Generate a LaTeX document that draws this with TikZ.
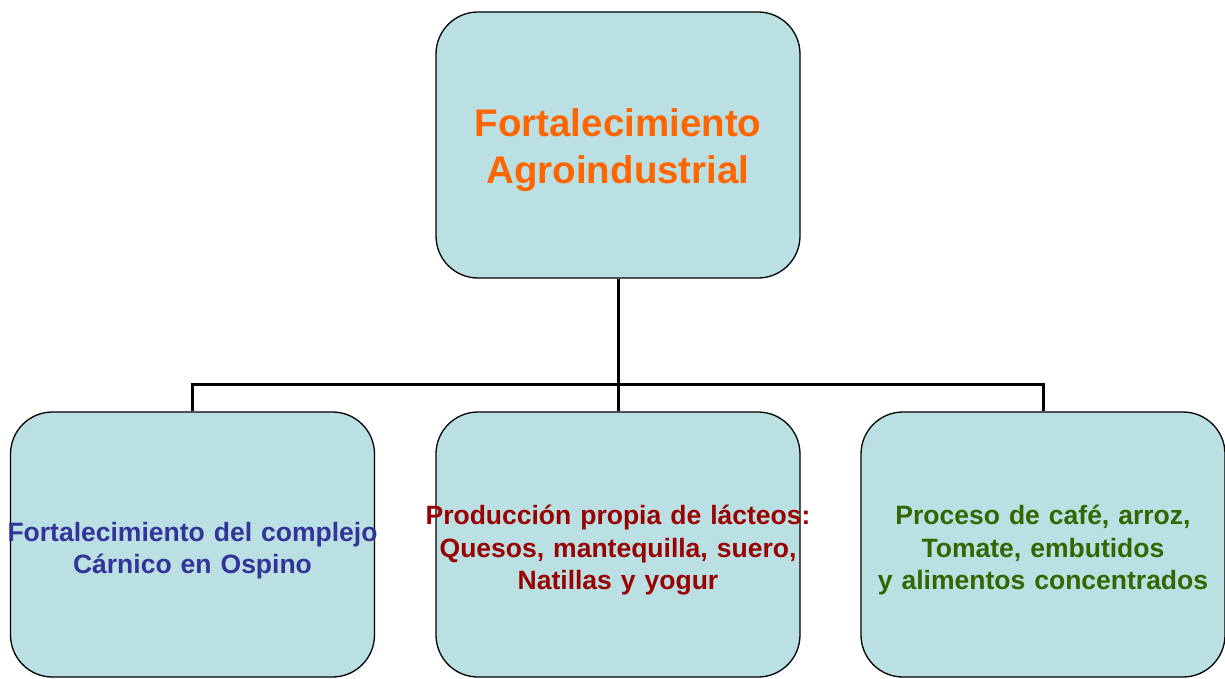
\documentclass[tikz,border=0pt]{standalone}
\usepackage{fontspec}
\setmainfont{Liberation Sans}
\usetikzlibrary{positioning}
\definecolor{cajaazul}{RGB}{186,224,227}
\definecolor{naranja}{RGB}{255,102,0}
\definecolor{azultexto}{RGB}{51,51,153}
\definecolor{rojotexto}{RGB}{153,0,0}
\definecolor{verdetexto}{RGB}{51,102,0}

\begin{document}
\begin{tikzpicture}[x=1pt,y=-1pt,font=\bfseries,
  caja/.style={draw=black, line width=1.3pt, fill=cajaazul, rounded corners=42pt,
    minimum width=364pt, minimum height=265pt, inner sep=0pt},
  texto/.style={align=center, inner sep=0pt,
    font=\fontsize{26.5}{32.5}\selectfont\bfseries,
    execute at begin node={\spaceskip=9pt\relax}},
  conn/.style={line width=3pt}]
  \useasboundingbox (0,0) rectangle (1225,679);

  % Kotak utama
  \node[caja, minimum height=266pt] (agro) at (618,145) {};
  \node[align=center, inner sep=0pt, text=naranja,
    font=\fontsize{38.5}{47}\selectfont\bfseries] (agro-txt) at ([yshift=-5pt]agro.center) {Fortalecimiento\\Agroindustrial};

  % Kotak-kotak bawah
  \foreach \nm/\xx/\clr/\txt in {
      carnico/192.5/azultexto/{Fortalecimiento del complejo\\Cárnico en Ospino},
      lacteos/618/rojotexto/{Producción propia de lácteos:\\Quesos, mantequilla, suero,\\Natillas y yogur},
      proceso/1043/verdetexto/{Proceso de café, arroz,\\Tomate, embutidos\\y alimentos concentrados}} {
    \node[caja] (\nm) at (\xx,544.5) {};
    \node[texto, text=\clr] (\nm-txt) at ([yshift=-6pt]\nm.center) {\txt};
  }

  % Garis penghubung
  \coordinate (bus) at (618,384);
  \draw[conn] (agro.south) -- (bus);
  \draw[conn] (carnico.north) |- (bus) -| (proceso.north);
  \draw[conn] (lacteos.north) -- (bus);
\end{tikzpicture}
\end{document}
